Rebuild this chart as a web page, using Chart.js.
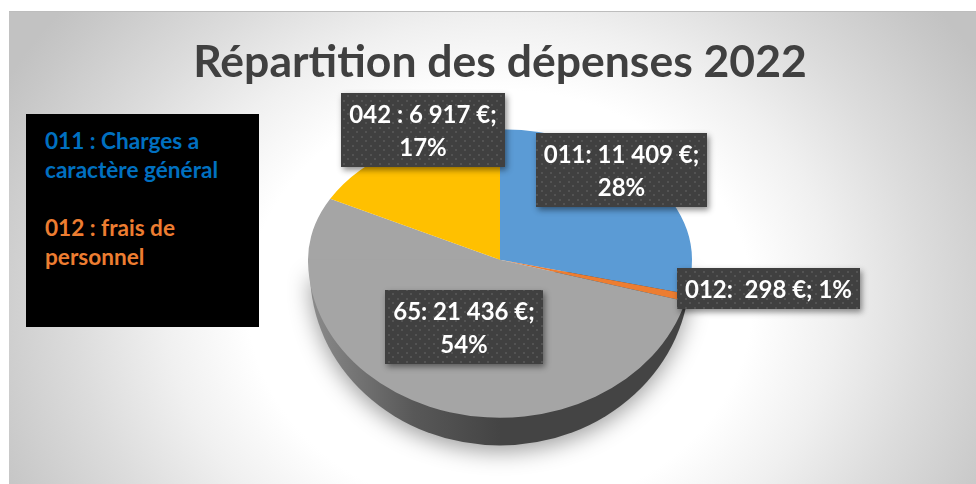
<!DOCTYPE html>
<html lang="fr">
<head>
<meta charset="utf-8">
<script src="https://cdn.jsdelivr.net/npm/chart.js@4"></script>
<style>
html,body{margin:0;padding:0;background:#fff;width:976px;height:484px;overflow:hidden}
#panel{position:absolute;left:9px;top:11px;width:967px;height:473px;border-top:1px solid #bdbdbd;box-sizing:border-box;
background:radial-gradient(ellipse 560px 470px at 491px 290px,#ffffff 45%,#f0f0f0 60%,#dcdcdc 76%,#c8c8c8 94%,#c2c2c2 100%)}
#wrap{position:absolute;left:0;top:0;width:976px;height:484px}
#note{position:absolute;left:26px;top:114px;width:233px;height:213px;background:#000;font:bold 22.6px/29px Lato,sans-serif;font-variant-ligatures:none;box-sizing:border-box;padding:12px 0 0 19px}
#note .a{color:#0070C0}#note .b{color:#ED7D31;margin-top:29px}
</style>
</head>
<body>
<div id="panel"></div>
<div id="wrap"><canvas id="c" width="976" height="484"></canvas></div>
<div id="note"><div class="a">011 : Charges a<br>caractère général</div><div class="b">012 : frais de<br>personnel</div></div>
<script>
const categories = ["011", "012", "65", "042"];
const amounts = [11409, 298, 21436, 6917];
const colours = ["#5B9BD5", "#ED7D31", "#A5A5A5", "#FFC000"];
const labelLines = [
  ["011: 11 409 €;", "28%"],
  ["012:  298 €; 1%"],
  ["65: 21 436 €;", "54%"],
  ["042 : 6 917 €;", "17%"]
];
const titleText = "Répartition des dépenses 2022";

// layout of the label boxes (left, top, right, bottom)
const boxes = [[536,133,707,207],[677,268,860,309],[385,290,543,364],[341,93,505,167]];
const upperSquash = 130.5/192, lowerSquash = 158/192;

function dotPattern(ctx){
  const t = document.createElement("canvas"); t.width = 9; t.height = 9;
  const g = t.getContext("2d");
  g.fillStyle = "#404040"; g.fillRect(0,0,9,9);
  g.fillStyle = "#535353";
  g.fillRect(1,1,2,2); g.fillRect(5,5,2,2);
  return ctx.createPattern(t,"repeat");
}

const tiltedPie = {
  id:"tiltedPie",
  beforeDatasetsDraw(chart){
    const ctx = chart.ctx, arcs = chart.getDatasetMeta(0).data, a0 = arcs[0];
    const cx = a0.x, cy = a0.y, r = a0.outerRadius;
    // side wall
    ctx.save();
    const wall = new Path2D();
    wall.ellipse(cx, cy+12, r-2, r*0.905, 0, 0, Math.PI);
    ctx.shadowColor = "rgba(0,0,0,.38)"; ctx.shadowBlur = 22; ctx.shadowOffsetY = 6;
    const g = ctx.createLinearGradient(cx-r,0,cx,0);
    g.addColorStop(0,"#8c8c8c"); g.addColorStop(.55,"#585858"); g.addColorStop(1,"#444444");
    ctx.fillStyle = g; ctx.fill(wall);
    ctx.restore();
    // top face: lower and upper halves, squashed separately for the perspective
    ctx.save();
    ctx.beginPath(); ctx.rect(cx-r-2, cy-1, 2*r+4, r+4); ctx.clip();
    ctx.translate(0,cy); ctx.scale(1,lowerSquash); ctx.translate(0,-cy);
    arcs.forEach(a=>a.draw(ctx));
    ctx.restore();
    ctx.save();
    ctx.beginPath(); ctx.rect(cx-r-2, cy-r-4, 2*r+4, r+4); ctx.clip();
    ctx.translate(0,cy); ctx.scale(1,upperSquash); ctx.translate(0,-cy);
    arcs.forEach(a=>a.draw(ctx));
    ctx.restore();
    return false;
  },
  afterDraw(chart){
    const ctx = chart.ctx, pat = dotPattern(ctx);
    ctx.save();
    boxes.forEach((b,i)=>{
      const [l,t,rt,bt] = b;
      ctx.save();
      ctx.shadowColor="rgba(0,0,0,.45)"; ctx.shadowBlur=6; ctx.shadowOffsetX=2; ctx.shadowOffsetY=3;
      ctx.fillStyle="#404040"; ctx.fillRect(l,t,rt-l,bt-t);
      ctx.restore();
      ctx.fillStyle=pat; ctx.fillRect(l,t,rt-l,bt-t);
      ctx.fillStyle="#fff"; ctx.font="bold 24px Lato, sans-serif"; ctx.textAlign="center"; ctx.textBaseline="middle";
      const lines = labelLines[i], mid=(t+bt)/2+2;
      lines.forEach((s,k)=>ctx.fillText(s,(l+rt)/2,mid+(k-(lines.length-1)/2)*33));
    });
    ctx.restore();
  }
};

const canvasEl = document.getElementById("c");
canvasEl.getContext("2d").letterSpacing = "0.01px";
new Chart(canvasEl,{
  type:"pie",
  data:{labels:categories,datasets:[{data:amounts,backgroundColor:colours,borderWidth:0,hoverOffset:0}]},
  options:{
    responsive:false,animation:false,radius:192,
    layout:{padding:{left:24,right:0,top:0,bottom:54}},
    plugins:{
      legend:{display:false},tooltip:{enabled:false},
      title:{display:true,text:titleText,color:"#404040",font:{family:"Lato, sans-serif",size:44.5,weight:"bold",lineHeight:1.2},padding:{top:36,bottom:0}}
    }
  },
  plugins:[tiltedPie]
});
</script>
</body>
</html>
